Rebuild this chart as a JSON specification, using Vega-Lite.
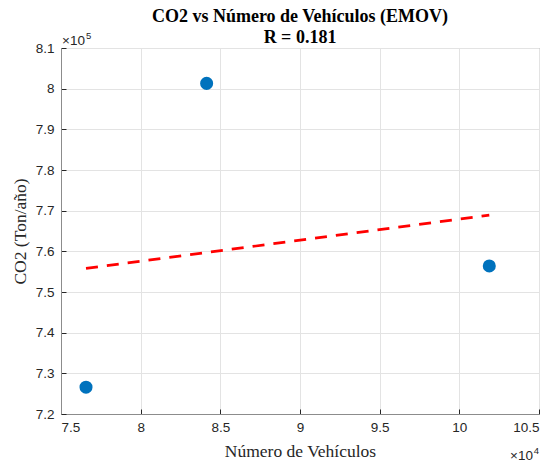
{
  "$schema": "https://vega.github.io/schema/vega-lite/v6.json",
  "autosize": "none",
  "width": 478,
  "height": 366,
  "padding": {"left": 61, "top": 48, "right": 15, "bottom": 50},
  "background": "white",
  "config": {
    "view": {"stroke": "#8c8c8c", "strokeWidth": 1},
    "axis": {
      "labelFont": "Liberation Sans",
      "labelFontSize": 13.5,
      "labelColor": "#262626",
      "titleFont": "Liberation Serif",
      "titleFontSize": 17.5,
      "titleFontWeight": "normal",
      "titleColor": "#262626",
      "domainColor": "#8c8c8c",
      "tickColor": "#262626",
      "tickSize": -5,
      "gridColor": "#e3e3e3",
      "gridWidth": 1
    }
  },
  "title": {
    "text": ["CO2 vs Número de Vehículos (EMOV)", "R = 0.181"],
    "font": "Liberation Serif",
    "fontSize": 18,
    "fontWeight": "bold",
    "color": "#000000",
    "anchor": "middle",
    "offset": -16,
    "lineHeight": 21
  },
  "datasets": {
    "points": [
      {"vehiculos": 76570, "co2": 726600},
      {"vehiculos": 84140, "co2": 801300},
      {"vehiculos": 101880, "co2": 756400}
    ],
    "fit": [
      {"vehiculos": 76570, "co2": 755800},
      {"vehiculos": 101880, "co2": 768900}
    ],
    "notes": [
      {"vehiculos": 75000, "co2": 810000, "text": "×10", "where": "y"},
      {"vehiculos": 75000, "co2": 810000, "text": "5", "where": "ye"},
      {"vehiculos": 105000, "co2": 720000, "text": "×10", "where": "x"},
      {"vehiculos": 105000, "co2": 720000, "text": "4", "where": "xe"}
    ]
  },
  "layer": [
    {
      "data": {"name": "fit"},
      "mark": {"type": "line", "color": "#ff0000", "strokeWidth": 2.6, "strokeDash": [12, 9]},
      "encoding": {
        "x": {
          "field": "vehiculos", "type": "quantitative",
          "scale": {"domain": [75000, 105000], "nice": false, "zero": false},
          "axis": {
            "title": "Número de Vehículos",
            "values": [75000, 80000, 85000, 90000, 95000, 100000, 105000],
            "labelExpr": "format(datum.value/10000, '.1~f')",
            "labelPadding": 11,
            "titlePadding": 9
          }
        },
        "y": {
          "field": "co2", "type": "quantitative",
          "scale": {"domain": [720000, 810000], "nice": false, "zero": false},
          "axis": {
            "title": "CO2 (Ton/año)",
            "values": [720000, 730000, 740000, 750000, 760000, 770000, 780000, 790000, 800000, 810000],
            "labelExpr": "format(datum.value/100000, '.1~f')",
            "labelPadding": 12,
            "titlePadding": 6
          }
        }
      }
    },
    {
      "data": {"name": "points"},
      "mark": {"type": "circle", "color": "#0072BD", "opacity": 1, "size": 170},
      "encoding": {
        "x": {"field": "vehiculos", "type": "quantitative"},
        "y": {"field": "co2", "type": "quantitative"}
      }
    },
    {
      "data": {"name": "notes"},
      "transform": [{"filter": "datum.where == 'y'"}],
      "mark": {"type": "text", "font": "Liberation Sans", "fontSize": 13.5, "color": "#262626", "align": "left", "baseline": "alphabetic", "dx": 1, "dy": -3},
      "encoding": {
        "x": {"field": "vehiculos", "type": "quantitative"},
        "y": {"field": "co2", "type": "quantitative"},
        "text": {"field": "text"}
      }
    },
    {
      "data": {"name": "notes"},
      "transform": [{"filter": "datum.where == 'ye'"}],
      "mark": {"type": "text", "font": "Liberation Sans", "fontSize": 9.5, "color": "#262626", "align": "left", "baseline": "alphabetic", "dx": 25, "dy": -9},
      "encoding": {
        "x": {"field": "vehiculos", "type": "quantitative"},
        "y": {"field": "co2", "type": "quantitative"},
        "text": {"field": "text"}
      }
    },
    {
      "data": {"name": "notes"},
      "transform": [{"filter": "datum.where == 'x'"}],
      "mark": {"type": "text", "font": "Liberation Sans", "fontSize": 13.5, "color": "#262626", "align": "right", "baseline": "alphabetic", "dx": -6, "dy": 46},
      "encoding": {
        "x": {"field": "vehiculos", "type": "quantitative"},
        "y": {"field": "co2", "type": "quantitative"},
        "text": {"field": "text"}
      }
    },
    {
      "data": {"name": "notes"},
      "transform": [{"filter": "datum.where == 'xe'"}],
      "mark": {"type": "text", "font": "Liberation Sans", "fontSize": 9.5, "color": "#262626", "align": "right", "baseline": "alphabetic", "dx": 0, "dy": 40},
      "encoding": {
        "x": {"field": "vehiculos", "type": "quantitative"},
        "y": {"field": "co2", "type": "quantitative"},
        "text": {"field": "text"}
      }
    }
  ]
}
